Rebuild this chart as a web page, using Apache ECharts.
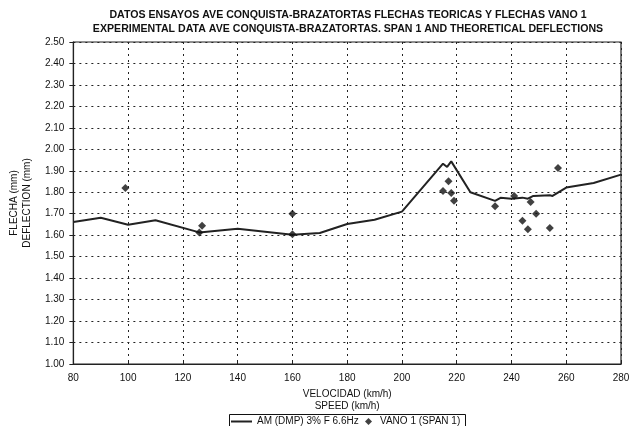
<!DOCTYPE html>
<html><head><meta charset="utf-8">
<script src="https://cdn.jsdelivr.net/npm/echarts@6/dist/echarts.min.js"></script>
<style>html,body{margin:0;padding:0;background:#fff}#c{width:641px;height:426px}</style>
</head><body><div id="c"></div>
<script>
var titleLines = ["DATOS ENSAYOS AVE CONQUISTA-BRAZATORTAS FLECHAS TEORICAS Y FLECHAS VANO 1",
                  "EXPERIMENTAL DATA AVE CONQUISTA-BRAZATORTAS. SPAN 1 AND THEORETICAL DEFLECTIONS"];
var xName = "VELOCIDAD (km/h)\nSPEED (km/h)";
var yName = "FLECHA (mm)\nDEFLECTION (mm)";
var lineName = "AM (DMP) 3% F 6.6Hz";
var pointName = "VANO 1 (SPAN 1)";

var lineSpeed = [80, 90, 100, 110, 126, 140, 160, 170, 180, 190, 200, 215, 216.5, 218, 225, 234, 236, 240, 244, 246, 248, 254, 255, 260, 270, 280];
var lineDefl  = [1.662, 1.681, 1.649, 1.670, 1.613, 1.630, 1.602, 1.610, 1.652, 1.672, 1.710, 1.933, 1.918, 1.944, 1.800, 1.760, 1.774, 1.770, 1.775, 1.770, 1.783, 1.786, 1.783, 1.822, 1.843, 1.882];

var ptSpeed = [99, 127, 126, 160, 160, 215, 217, 218, 219, 234, 241, 244, 246, 247, 249, 254, 257];
var ptDefl  = [1.82, 1.644, 1.613, 1.70, 1.605, 1.806, 1.851, 1.797, 1.760, 1.735, 1.783, 1.667, 1.628, 1.755, 1.70, 1.634, 1.913];

var font = "Liberation Sans, Arial, sans-serif";
var chart = echarts.init(document.getElementById('c'), null, {renderer:'canvas'});
chart.setOption({
  backgroundColor: '#fff',
  animation: false,
  title: {
    text: titleLines.join("\n"), left: 343, top: 3, textAlign: 'center',
    textStyle: {fontFamily: font, fontSize: 10.6, fontWeight: 'bold', color: '#111', lineHeight: 14}
  },
  graphic: [{
    type: 'rect', shape: {x: 229.5, y: 414.5, width: 236, height: 16},
    style: {fill: 'none', stroke: '#111', lineWidth: 1}, silent: true
  }],
  legend: [{
    left: 231, top: 416.5, padding: 0,
    icon: 'rect', itemWidth: 21, itemHeight: 2,
    textStyle: {fontFamily: font, fontSize: 10, color: '#111'},
    data: [{name: lineName, itemStyle: {color: '#222'}}]
  }, {
    left: 365, top: 416.5, padding: 0,
    icon: 'diamond', itemWidth: 7, itemHeight: 7,
    textStyle: {fontFamily: font, fontSize: 10, color: '#111', padding: [0,0,0,3]},
    data: [{name: pointName, itemStyle: {color: '#111'}}]
  }],
  grid: {left: 67, right: 20, top: 42, bottom: 62, show: true, borderColor: '#222', borderWidth: 1.2},
  xAxis: {
    type: 'value', min: 80, max: 280, interval: 20,
    name: xName, nameLocation: 'middle', nameGap: 22,
    nameTextStyle: {fontFamily: font, fontSize: 10, color: '#111', lineHeight: 12, verticalAlign: 'top'},
    axisLine: {show: true, lineStyle: {color: '#222', width: 1.2}},
    axisTick: {show: true, inside: true, length: 4, lineStyle: {color: '#222'}},
    axisLabel: {fontFamily: font, fontSize: 10, color: '#111', margin: 9},
    splitLine: {show: true, lineStyle: {color: '#222', type: [2, 4], width: 1}}
  },
  yAxis: {
    type: 'value', min: 1.0, max: 2.5, interval: 0.1,
    name: yName, nameLocation: 'middle', nameRotate: 90, nameGap: 37,
    nameTextStyle: {fontFamily: font, fontSize: 10, color: '#111', lineHeight: 13},
    axisLine: {show: true, lineStyle: {color: '#222', width: 1.2}},
    axisTick: {show: true, inside: false, length: 4, lineStyle: {color: '#222'}},
    axisLabel: {fontFamily: font, fontSize: 10, color: '#111', margin: 9,
      formatter: function(v){ return v.toFixed(2); }},
    splitLine: {show: true, lineStyle: {color: '#222', type: [2, 4], width: 1}}
  },
  series: [
    {
      name: lineName, type: 'line', symbol: 'none',
      lineStyle: {color: '#222', width: 2},
      itemStyle: {color: '#222'},
      data: lineSpeed.map(function(s, i){ return [s, lineDefl[i]]; }),
      z: 2
    },
    {
      name: pointName, type: 'scatter', symbol: 'diamond', symbolSize: 8,
      itemStyle: {color: '#111'},
      data: ptSpeed.map(function(s, i){ return [s, ptDefl[i]]; }),
      z: 3
    }
  ]
});
</script></body></html>
